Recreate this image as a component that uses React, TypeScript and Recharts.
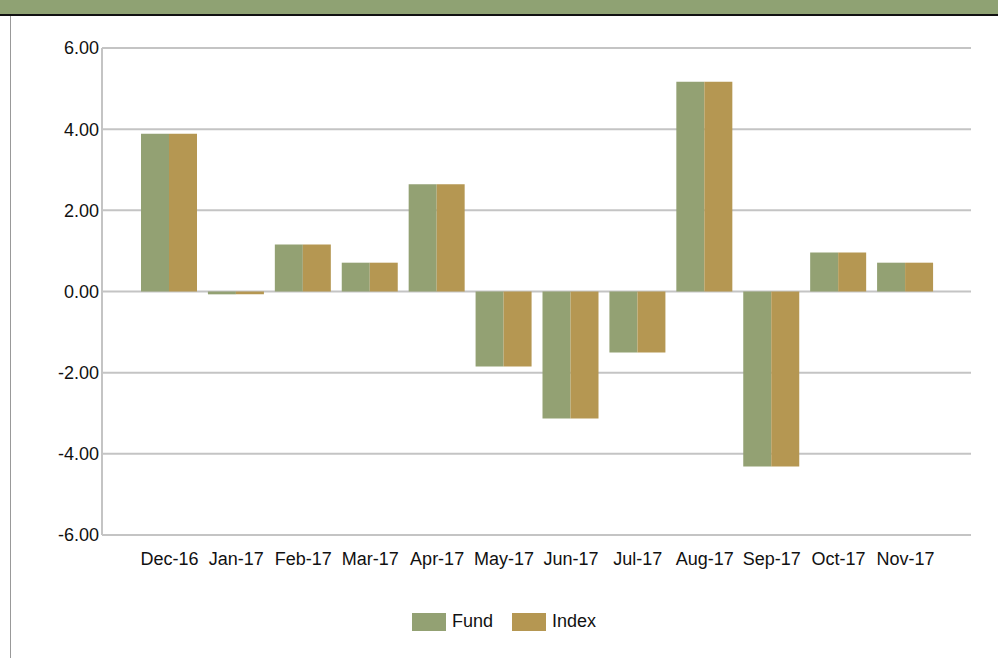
import { BarChart, Bar, XAxis, YAxis, CartesianGrid } from 'recharts';

const months = ['Dec-16', 'Jan-17', 'Feb-17', 'Mar-17', 'Apr-17', 'May-17', 'Jun-17', 'Jul-17', 'Aug-17', 'Sep-17', 'Oct-17', 'Nov-17'];
const fundValues = [3.89, -0.07, 1.16, 0.71, 2.64, -1.85, -3.13, -1.5, 5.17, -4.31, 0.96, 0.71];
const indexValues = [3.89, -0.07, 1.16, 0.71, 2.64, -1.85, -3.13, -1.5, 5.17, -4.31, 0.96, 0.71];
const yTicks = [-6, -4, -2, 0, 2, 4, 6];

const FUND = '#93a173';
const INDEX = '#b59752';
const GRID = '#c4c4c4';

const data = months.map((m, i) => ({ month: m, fund: fundValues[i], index: indexValues[i] }));

const font = '"Liberation Sans", Arial, sans-serif';

const LegendItem = ({ color, label }: { color: string; label: string }) => (
  <div style={{ display: 'flex', alignItems: 'center', marginRight: 19 }}>
    <div style={{ width: 34, height: 18, background: color, marginRight: 6 }} />
    <span style={{ fontSize: 18, color: '#111' }}>{label}</span>
  </div>
);

export default function App() {
  return (
    <div style={{ position: 'fixed', left: 0, top: 0, width: 998, height: 658, background: '#fff', fontFamily: font, overflow: 'hidden' }}>
      <div style={{ position: 'absolute', left: 0, top: 0, width: 998, height: 14, background: '#8fa273', borderBottom: '2px solid #111' }} />
      <div style={{ position: 'absolute', left: 10, top: 16, width: 1, height: 642, background: '#999' }} />

      <div style={{ position: 'absolute', left: 0, top: 0 }}>
        <BarChart
          width={998}
          height={658}
          data={data}
          margin={{ top: 48, right: 27, bottom: 93, left: 2 }}
          barGap={0}
          barCategoryGap={5}
        >
          <CartesianGrid vertical={false} stroke={GRID} strokeWidth={2} />
          <XAxis
            dataKey="month"
            height={30}
            padding={{ left: 34, right: 32 }}
            axisLine={false}
            tickLine={false}
            tickSize={0}
            tickMargin={17}
            interval={0}
            tick={{ fontSize: 18, fill: '#111', fontFamily: font }}
          />
          <YAxis
            width={100}
            domain={[-6, 6]}
            ticks={yTicks}
            tickFormatter={(v: number) => v.toFixed(2)}
            axisLine={{ stroke: GRID, strokeWidth: 2 }}
            tickLine={false}
            tickSize={0}
            tickMargin={3}
            tick={{ fontSize: 18, fill: '#111', fontFamily: font }}
          />
          <Bar dataKey="fund" name="Fund" fill={FUND} isAnimationActive={false} />
          <Bar dataKey="index" name="Index" fill={INDEX} isAnimationActive={false} />
        </BarChart>
      </div>

      <div style={{ position: 'absolute', left: 412, top: 611, display: 'flex' }}>
        <LegendItem color={FUND} label="Fund" />
        <LegendItem color={INDEX} label="Index" />
      </div>
    </div>
  );
}
